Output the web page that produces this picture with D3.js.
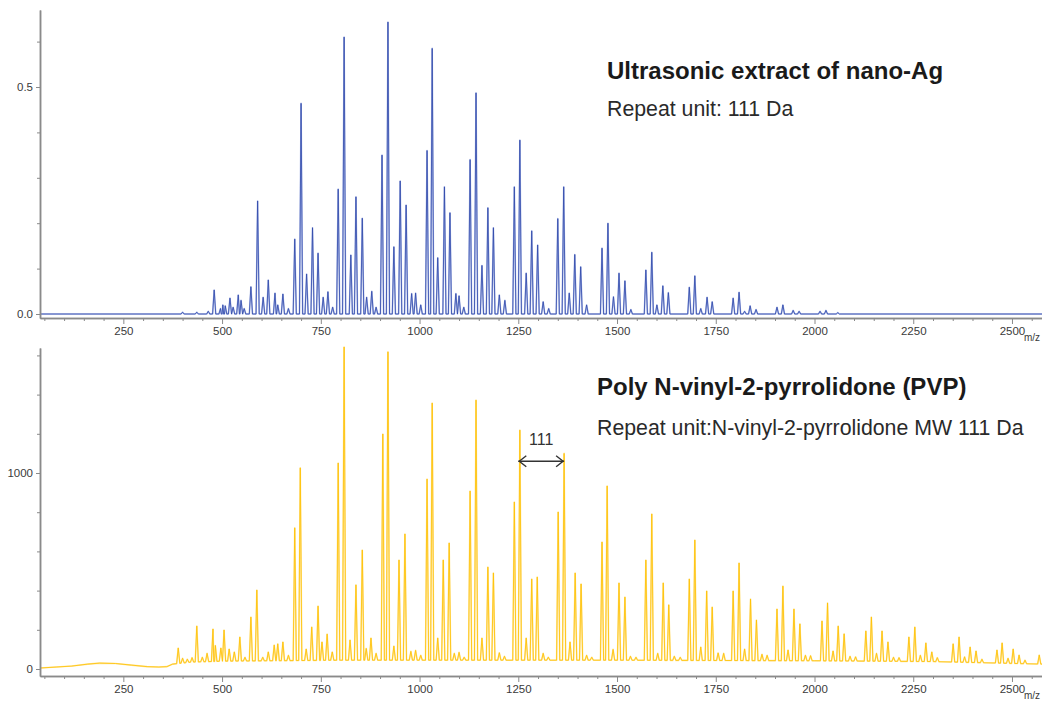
<!DOCTYPE html>
<html>
<head>
<meta charset="utf-8">
<script src="https://cdn.jsdelivr.net/npm/d3@7"></script>
<style>
  html, body { margin: 0; padding: 0; background: #fff; }
  svg { display: block; font-family: "Liberation Sans", Arial, sans-serif; }
</style>
</head>
<body>
<svg id="chart" width="1042" height="702"></svg>
<script>
// ---------------- DATA ----------------
// Top spectrum: Ultrasonic extract of nano-Ag  [m/z, relative intensity]
const topPeaks = [
  [400,0.004],[436,0.004],[465,0.006],
  [480,0.053],[496,0.012],[502,0.02],[508,0.018],[520,0.035],[528,0.015],[541,0.042],[548,0.03],[556,0.012],
  [573,0.06],[590,0.249],[604,0.037],[617,0.075],[634,0.046],[641,0.02],[654,0.044],[668,0.012],
  [684,0.165],[700,0.464],[714,0.088],[729,0.19],[743,0.134],[756,0.037],[768,0.049],[780,0.015],
  [794,0.275],[809,0.61],[826,0.13],[839,0.258],[855,0.211],[866,0.037],[879,0.05],[890,0.015],
  [905,0.35],[920,0.643],[935,0.148],[951,0.293],[966,0.24],[980,0.045],[990,0.046],[1003,0.02],
  [1019,0.36],[1032,0.585],[1046,0.124],[1063,0.28],[1077,0.223],[1092,0.045],[1100,0.04],[1112,0.015],
  [1128,0.34],[1143,0.487],[1158,0.107],[1173,0.234],[1187,0.19],[1202,0.042],[1216,0.03],
  [1240,0.28],[1254,0.383],[1270,0.09],[1284,0.183],[1299,0.152],[1313,0.027],[1327,0.012],
  [1350,0.21],[1365,0.28],[1379,0.046],[1393,0.131],[1408,0.104],[1423,0.02],
  [1462,0.145],[1477,0.2],[1491,0.038],[1505,0.09],[1520,0.073],[1535,0.01],
  [1573,0.097],[1588,0.136],[1601,0.02],[1616,0.062],[1630,0.047],
  [1683,0.059],[1697,0.084],[1712,0.012],[1728,0.037],[1741,0.027],
  [1794,0.035],[1809,0.048],[1823,0.006],[1837,0.018],[1852,0.01],
  [1905,0.015],[1920,0.02],[1946,0.008],[1961,0.006],[2014,0.006],[2029,0.008],[2059,0.003]
];
const topBaseline = [[39,0],[2576,0]];

// Bottom spectrum: Poly N-vinyl-2-pyrrolidone (PVP)  [m/z, intensity]
const bottomPeaks = [
  [389,107],[400,55],[412,50],[424,58],[436,219],[450,60],[462,80],[477,204],[483,120],[497,107],[505,199],[518,102],[531,87],
  [545,163],[558,60],[573,265],[588,403],[603,60],[617,87],[632,122],[641,128],[654,138],[668,70],
  [684,720],[698,1026],[713,102],[727,214],[743,321],[753,138],[766,178],[779,87],
  [794,1051],[809,1643],[824,148],[839,429],[855,607],[865,105],[877,158],[890,80],
  [907,1199],[920,1618],[935,117],[948,556],[963,689],[978,90],[990,95],[1003,70],
  [1019,969],[1032,1357],[1046,158],[1060,556],[1075,643],[1088,80],[1100,85],[1113,60],
  [1128,908],[1143,1372],[1158,158],[1173,520],[1187,490],[1202,83],[1215,65],
  [1240,852],[1254,1219],[1270,158],[1284,459],[1298,469],[1313,80],[1326,60],
  [1351,801],[1366,1100],[1381,138],[1394,490],[1409,434],[1423,70],[1436,60],
  [1462,648],[1475,934],[1490,100],[1505,439],[1520,367],[1534,65],[1548,60],
  [1573,556],[1588,791],[1603,80],[1617,439],[1631,327],[1645,65],[1660,60],
  [1683,459],[1697,658],[1712,112],[1727,398],[1741,316],[1756,82],[1770,80],
  [1794,398],[1809,541],[1823,102],[1838,357],[1853,250],[1867,75],[1880,70],
  [1905,306],[1920,423],[1933,97],[1948,306],[1963,230],[1977,70],[1990,68],
  [2019,245],[2033,337],[2047,92],[2060,219],[2075,179],[2090,65],[2104,62],
  [2130,194],[2144,265],[2157,80],[2171,194],[2186,138],[2200,60],[2214,58],
  [2239,163],[2254,214],[2268,70],[2282,133],[2297,87],[2311,58],
  [2351,128],[2366,163],[2380,62],[2394,112],[2409,92],[2424,50],
  [2462,97],[2475,133],[2490,55],[2503,102],[2518,71],[2533,45],
  [2569,71]
];
const bottomBaseline = [
  [39,5],[80,10],[120,15],[160,25],[190,30],[230,28],[270,20],[310,12],[340,10],[360,12],
  [375,25],[420,35],[500,40],[800,45],[1500,45],[2000,42],[2300,38],[2576,25]
];

// Axis ticks / labels
const xMajorTicks = [250,500,750,1000,1250,1500,1750,2000,2250,2500];
const xMinorTicks = d3.range(50, 2576, 50);
const topYMajor = [0.0, 0.5];
const topYMinor = [0.1, 0.2, 0.3, 0.4, 0.6];
const bottomYMajor = [0, 1000];
const bottomYMinor = [200, 400, 600, 800, 1200, 1400, 1600];

const topTitle = "Ultrasonic extract of nano-Ag";
const topSubtitle = "Repeat unit: 111 Da";
const bottomTitle = "Poly N-vinyl-2-pyrrolidone (PVP)";
const bottomSubtitle = "Repeat unit:N-vinyl-2-pyrrolidone MW 111 Da";
const arrowRange = [1250, 1366];
const arrowLevel = 1060;
const arrowLabel = "111";

// ---------------- DRAW ----------------
const svg = d3.select("#chart");
svg.append("rect").attr("width", 1042).attr("height", 702).attr("fill", "#fff");

const AXIS_COLOR = "#8a8a8a";
const LABEL_COLOR = "#3a3a3a";
const HW = 4; // peak half width in m/z

const x = d3.scaleLinear().domain([39, 2576]).range([40, 1042]);

function buildProfile(peaks, baseline) {
  const base = d3.scaleLinear().domain(baseline.map(d => d[0])).range(baseline.map(d => d[1]));
  const pts = [];
  baseline.forEach(b => {
    if (!peaks.some(p => Math.abs(p[0] - b[0]) <= HW)) pts.push([b[0], b[1]]);
  });
  peaks.forEach(p => {
    pts.push([p[0] - HW, base(p[0] - HW)]);
    pts.push([p[0], p[1]]);
    pts.push([p[0] + HW, base(p[0] + HW)]);
  });
  pts.sort((a, b) => a[0] - b[0]);
  return pts;
}

function panel(opts) {
  const g = svg.append("g");
  const y = d3.scaleLinear().domain(opts.yDomain).range(opts.yRange);

  const line = d3.line().x(d => x(d[0])).y(d => y(d[1]));
  const prof = buildProfile(opts.peaks, opts.baseline);
  g.append("path")
    .datum(prof)
    .attr("d", line)
    .attr("fill", "none")
    .attr("stroke", opts.lightColor)
    .attr("stroke-width", 1.6)
    .attr("stroke-linejoin", "round");
  g.append("path")
    .datum(prof)
    .attr("d", line)
    .attr("fill", "none")
    .attr("stroke", opts.color)
    .attr("stroke-width", 0.8)
    .attr("stroke-linejoin", "round");

  const axisY = opts.yRange[0];

  const gxMinor = g.append("g").attr("transform", `translate(0,${axisY})`)
    .call(d3.axisBottom(x).tickValues(xMinorTicks.filter(v => !xMajorTicks.includes(v)))
      .tickSize(3).tickSizeOuter(0).tickFormat(""));
  const gx = g.append("g").attr("transform", `translate(0,${axisY})`)
    .call(d3.axisBottom(x).tickValues(xMajorTicks).tickSize(6).tickSizeOuter(0).tickPadding(3)
      .tickFormat(d3.format("d")));
  [gxMinor, gx].forEach(a => {
    a.select(".domain").attr("stroke", AXIS_COLOR).attr("stroke-width", 1.5);
    a.selectAll(".tick line").attr("stroke", AXIS_COLOR).attr("stroke-width", 1);
  });
  gx.selectAll(".tick text").attr("fill", LABEL_COLOR).attr("font-size", 11.5)
    .attr("font-family", "Liberation Sans, Arial, sans-serif");

  const gyMinor = g.append("g").attr("transform", `translate(${x(39)},0)`)
    .call(d3.axisLeft(y).tickValues(opts.yMinor).tickSize(3).tickSizeOuter(0).tickFormat(""));
  const gy = g.append("g").attr("transform", `translate(${x(39)},0)`)
    .call(d3.axisLeft(y).tickValues(opts.yMajor).tickSize(4).tickSizeOuter(0).tickPadding(3)
      .tickFormat(opts.yFormat));
  [gyMinor, gy].forEach(a => {
    a.select(".domain").attr("stroke", AXIS_COLOR).attr("stroke-width", 1.5);
    a.selectAll(".tick line").attr("stroke", AXIS_COLOR).attr("stroke-width", 1);
  });
  gy.selectAll(".tick text").attr("fill", LABEL_COLOR).attr("font-size", 11.5)
    .attr("font-family", "Liberation Sans, Arial, sans-serif");

  g.append("text").attr("x", 1040).attr("y", axisY + 23).attr("text-anchor", "end")
    .attr("font-size", 10).attr("fill", LABEL_COLOR).text("m/z");

  g.append("text").attr("x", opts.textX).attr("y", opts.titleY)
    .attr("font-size", 24).attr("font-weight", "bold").attr("fill", "#1a1a1a")
    .text(opts.title);
  g.append("text").attr("x", opts.textX).attr("y", opts.subY)
    .attr("font-size", 21.3).attr("fill", "#2a2a2a")
    .text(opts.subtitle);
  return { g, y };
}

const topPanel = panel({
  peaks: topPeaks, baseline: topBaseline,
  yDomain: [-0.0088, 0.6696], yRange: [318, 10],
  yMajor: topYMajor, yMinor: topYMinor, yFormat: d3.format(".1f"),
  color: "#2f47aa", lightColor: "#aebbe8",
  textX: 607, titleY: 79, subY: 116,
  title: topTitle, subtitle: topSubtitle
});

const bottomPanel = panel({
  peaks: bottomPeaks, baseline: bottomBaseline,
  yDomain: [-35.7, 1637.8], yRange: [676, 348],
  yMajor: bottomYMajor, yMinor: bottomYMinor, yFormat: d3.format("d"),
  color: "#ffc000", lightColor: "#ffe69a",
  textX: 597, titleY: 395, subY: 435,
  title: bottomTitle, subtitle: bottomSubtitle
});

const ay = bottomPanel.y(arrowLevel);
const ax1 = x(arrowRange[0]), ax2 = x(arrowRange[1]);
const ag = svg.append("g").attr("stroke", "#333").attr("stroke-width", 1.4).attr("fill", "none");
ag.append("line").attr("x1", ax1).attr("x2", ax2).attr("y1", ay).attr("y2", ay);
ag.append("path").attr("d", `M${ax1 + 8},${ay - 5.5}L${ax1 + 1},${ay}L${ax1 + 8},${ay + 5.5}`);
ag.append("path").attr("d", `M${ax2 - 8},${ay - 5.5}L${ax2 - 1},${ay}L${ax2 - 8},${ay + 5.5}`);
svg.append("text").attr("x", (ax1 + ax2) / 2).attr("y", ay - 16)
  .attr("text-anchor", "middle").attr("font-size", 16).attr("fill", "#333").text(arrowLabel);
</script>
</body>
</html>
